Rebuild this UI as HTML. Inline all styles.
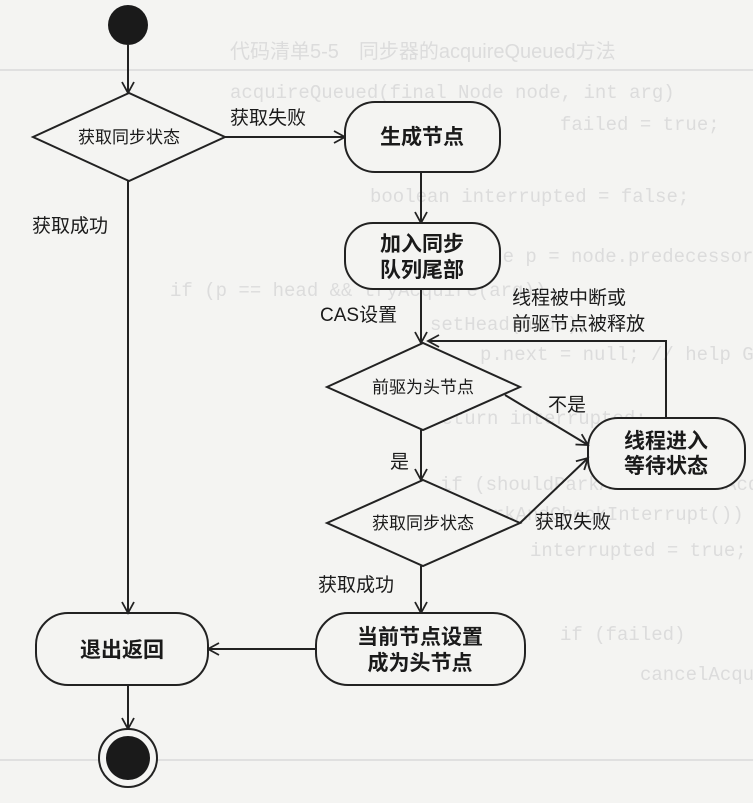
<!DOCTYPE html>
<html><head><meta charset="utf-8"><style>
body{margin:0;background:#f4f4f2;}
svg{display:block;}
text{font-family:"Liberation Sans","Noto Sans CJK SC",sans-serif;fill:#1a1a1a;}
.bg{font-family:"Liberation Mono","Noto Sans CJK SC",monospace;fill:#dcdcdc;font-size:19px;}
.n{font-size:21px;font-weight:bold;text-anchor:middle;}
.d{font-size:17px;text-anchor:middle;}
.l{font-size:19px;}
</style></head><body>
<svg width="753" height="803" viewBox="0 0 753 803" xmlns="http://www.w3.org/2000/svg">
<defs><marker id="a" markerWidth="14" markerHeight="14" refX="12" refY="7" orient="auto" markerUnits="userSpaceOnUse"><path d="M1,1 L12,7 L1,13" fill="none" stroke="#222" stroke-width="1.8"/></marker></defs>
<text class="bg" x="230" y="58" style="font-family:'Liberation Sans','Noto Sans CJK SC',sans-serif;font-size:20px">代码清单5-5　同步器的acquireQueued方法</text>
<line x1="0" y1="70" x2="753" y2="70" stroke="#e0e0e0" stroke-width="2"/>
<text class="bg" x="230" y="98">acquireQueued(final Node node, int arg)</text>
<text class="bg" x="560" y="130">failed = true;</text>
<text class="bg" x="370" y="202">boolean interrupted = false;</text>
<text class="bg" x="370" y="236">for (;;) {</text>
<text class="bg" x="400" y="262">final Node p = node.predecessor();</text>
<text class="bg" x="170" y="296">if (p == head &amp;&amp; tryAcquire(arg))</text>
<text class="bg" x="430" y="330">setHead(node);</text>
<text class="bg" x="480" y="360">p.next = null; // help GC</text>
<text class="bg" x="430" y="424">return interrupted;</text>
<text class="bg" x="440" y="490">if (shouldParkAfterFailedAcquire(p, node) &amp;&amp;</text>
<text class="bg" x="470" y="520">parkAndCheckInterrupt())</text>
<text class="bg" x="530" y="556">interrupted = true;</text>
<text class="bg" x="560" y="640">if (failed)</text>
<text class="bg" x="640" y="680">cancelAcquire(node);</text>
<line x1="0" y1="760" x2="753" y2="760" stroke="#e0e0e0" stroke-width="2"/>

<g stroke="#222" stroke-width="2" fill="none">
<line x1="128" y1="45" x2="128" y2="93" marker-end="url(#a)"/>
<polygon points="33,137 129,93 225,137 129,181" fill="#f4f4f2"/>
<line x1="225" y1="137" x2="345" y2="137" marker-end="url(#a)"/>
<rect x="345" y="102" width="155" height="70" rx="30" fill="#f4f4f2"/>
<line x1="421" y1="172" x2="421" y2="223" marker-end="url(#a)"/>
<rect x="345" y="223" width="155" height="66" rx="28" fill="#f4f4f2"/>
<line x1="421" y1="289" x2="421" y2="343" marker-end="url(#a)"/>
<polygon points="327,387 423,343 520,387 423,430" fill="#f4f4f2"/>
<polyline points="666,418 666,341 428,341" marker-end="url(#a)"/>
<rect x="588" y="418" width="157" height="71" rx="30" fill="#f4f4f2"/>
<line x1="505" y1="395" x2="588" y2="445" marker-end="url(#a)"/>
<line x1="421" y1="430" x2="421" y2="480" marker-end="url(#a)"/>
<polygon points="327,523 423,480 520,523 423,566" fill="#f4f4f2"/>
<line x1="520" y1="523" x2="588" y2="458" marker-end="url(#a)"/>
<line x1="421" y1="566" x2="421" y2="613" marker-end="url(#a)"/>
<rect x="316" y="613" width="209" height="72" rx="32" fill="#f4f4f2"/>
<line x1="316" y1="649" x2="208" y2="649" marker-end="url(#a)"/>
<rect x="36" y="613" width="172" height="72" rx="32" fill="#f4f4f2"/>
<line x1="128" y1="181" x2="128" y2="613" marker-end="url(#a)"/>
<line x1="128" y1="685" x2="128" y2="729" marker-end="url(#a)"/>
<circle cx="128" cy="758" r="29" fill="#f4f4f2"/>
</g>
<circle cx="128" cy="25" r="20" fill="#1a1a1a"/>
<circle cx="128" cy="758" r="22" fill="#1a1a1a"/>

<text class="d" x="129" y="143">获取同步状态</text>
<text class="l" x="230" y="124">获取失败</text>
<text class="n" x="422" y="144">生成节点</text>
<text class="n" x="422" y="251">加入同步</text>
<text class="n" x="422" y="277">队列尾部</text>
<text class="l" x="32" y="232">获取成功</text>
<text class="l" x="320" y="321">CAS设置</text>
<text class="l" x="512" y="304">线程被中断或</text>
<text class="l" x="512" y="330">前驱节点被释放</text>
<text class="d" x="423" y="393">前驱为头节点</text>
<text class="l" x="548" y="411">不是</text>
<text class="n" x="666" y="448">线程进入</text>
<text class="n" x="666" y="473">等待状态</text>
<text class="l" x="390" y="468">是</text>
<text class="d" x="423" y="529">获取同步状态</text>
<text class="l" x="535" y="528">获取失败</text>
<text class="l" x="318" y="591">获取成功</text>
<text class="n" x="420" y="644">当前节点设置</text>
<text class="n" x="420" y="670">成为头节点</text>
<text class="n" x="122" y="657">退出返回</text>
</svg>
</body></html>
